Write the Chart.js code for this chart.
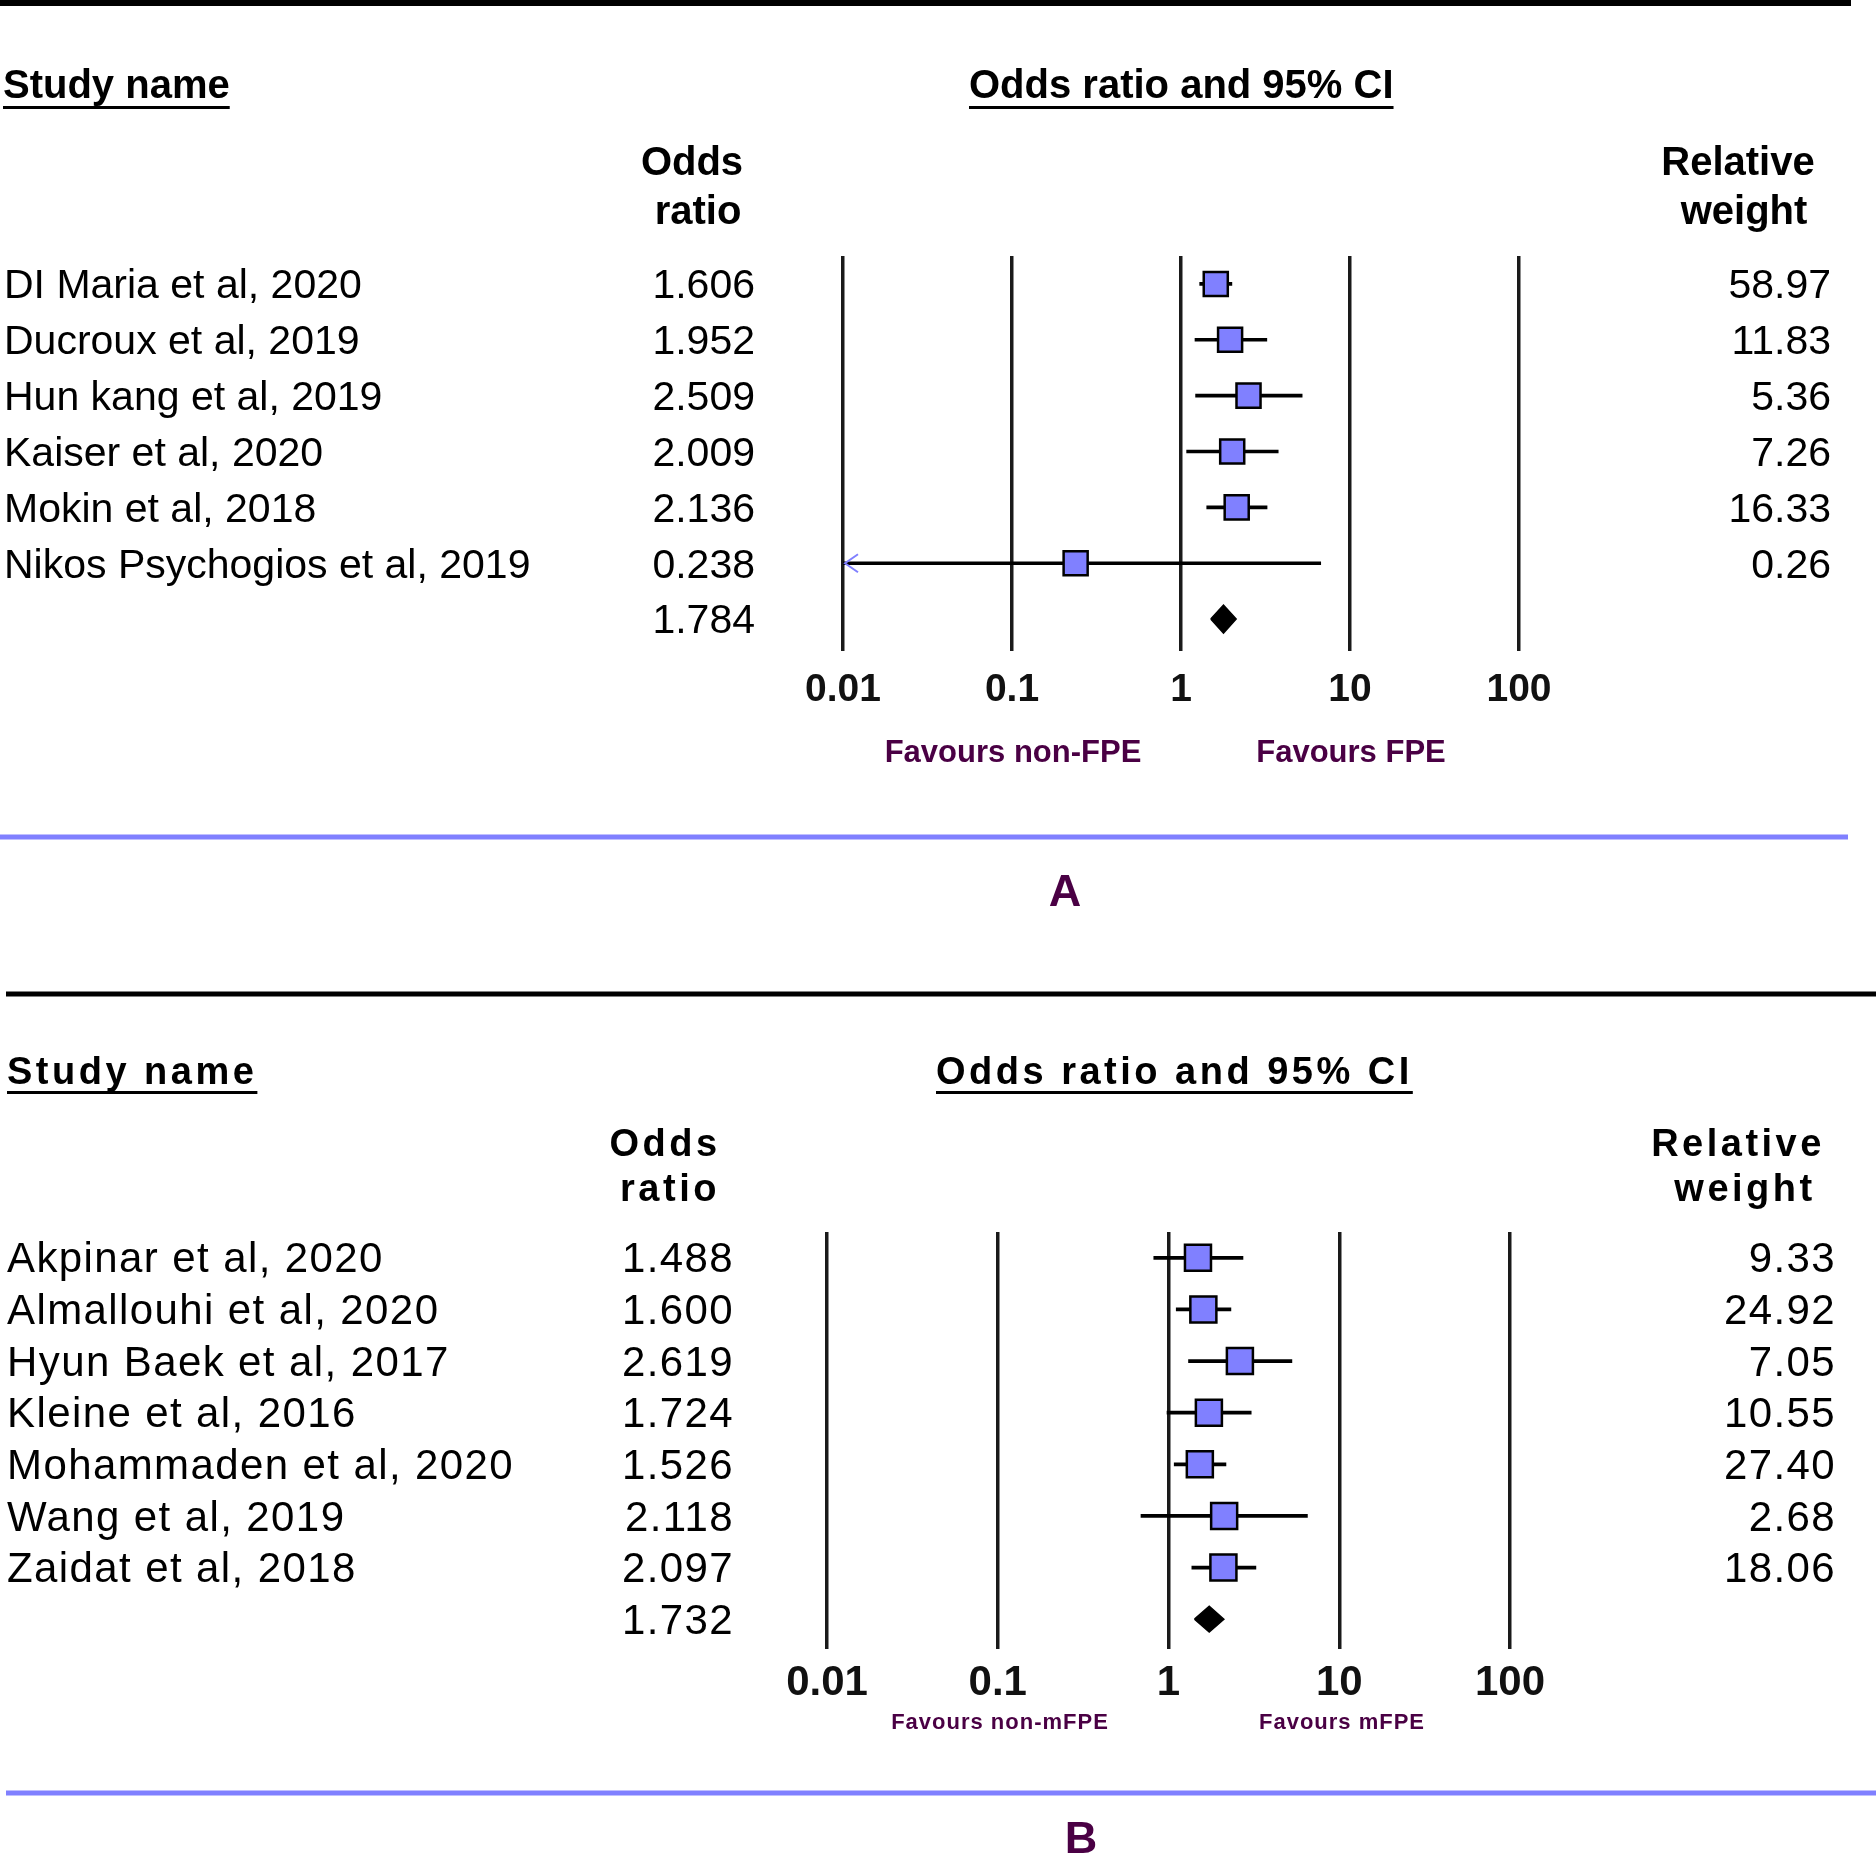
<!DOCTYPE html>
<html>
<head>
<meta charset="utf-8">
<title>Forest plots - FPE / mFPE</title>
<script src="https://cdn.jsdelivr.net/npm/chart.js@4.4.1/dist/chart.umd.min.js"></script>
<style>
    html, body { margin: 0; padding: 0; background: #fff; }
    #wrap { position: relative; width: 1876px; height: 1856px; }
    canvas { position: absolute; left: 0; }
    #chartA { top: 0; }
    #chartB { top: 940px; }
</style>
</head>
<body>
<div id="wrap">
    <canvas id="chartA" width="1876" height="940"></canvas>
    <canvas id="chartB" width="1876" height="916"></canvas>
</div>
<script>
// Panel A data (FPE vs non-FPE)
const studiesA = ['DI Maria et al, 2020', 'Ducroux et al, 2019', 'Hun kang et al, 2019',
    'Kaiser et al, 2020', 'Mokin et al, 2018', 'Nikos Psychogios et al, 2019'];
const oddsA = [1.606, 1.952, 2.509, 2.009, 2.136, 0.238];
const lowerA = [1.29, 1.21, 1.22, 1.08, 1.42, 0.0084];
const upperA = [2.00, 3.22, 5.21, 3.76, 3.23, 6.71];
const weightA = [58.97, 11.83, 5.36, 7.26, 16.33, 0.26];
const pooledA = [1.50, 1.784, 2.12];   // lower, estimate, upper

// Panel B data (mFPE vs non-mFPE)
const studiesB = ['Akpinar et al, 2020', 'Almallouhi et al, 2020', 'Hyun Baek et al, 2017',
    'Kleine et al, 2016', 'Mohammaden et al, 2020', 'Wang et al, 2019', 'Zaidat et al, 2018'];
const oddsB = [1.488, 1.600, 2.619, 1.724, 1.526, 2.118, 2.097];
const lowerB = [0.82, 1.11, 1.31, 0.98, 1.08, 0.69, 1.37];
const upperB = [2.73, 2.32, 5.28, 3.05, 2.17, 6.51, 3.25];
const weightB = [9.33, 24.92, 7.05, 10.55, 27.40, 2.68, 18.06];
const pooledB = [1.42, 1.732, 2.11];

// Axis ticks (shared)
const tickValues = [0.01, 0.1, 1, 10, 100];
const tickLabels = ['0.01', '0.1', '1', '10', '100'];

const FONT = "'Liberation Sans', Arial, Helvetica, sans-serif";
const PURPLE = '#4a0044';
const BLUE = '#8080ff';
const DIAMOND_HALF = 0.25;   // half height of pooled diamond, in rows
const TEXT_DY = 3;           // 'middle' baseline sits a bit high

Chart.defaults.font.family = FONT;

// Layout of panel A (canvas pixels)
const layoutA = {
    area: { left: 843, right: 357, top: 256, bottom: 203 },
    axisHeight: 90,
    tickFont: 39, tickPad: 16,
    markRadius: 17,
    spacing: '0px', bodySpacing: '0px',
    headFont: 40, bodyFont: 41,
    topRule: { x0: 0, x1: 1851, y: 3, h: 6 },
    studyHead: { x: 3, y: 84, ul: 106 },
    ciHead: { x: 969, y: 84, ul: 106 },
    headLines: [
        { t: 'Odds', x: 692, y: 161 }, { t: 'ratio', x: 698, y: 210 },
        { t: 'Relative', x: 1738, y: 161 }, { t: 'weight', x: 1744, y: 210 }
    ],
    nameX: 4, orRight: 755, weightRight: 1831,
    favours: [{ t: 'Favours non-FPE', x: 1013 }, { t: 'Favours FPE', x: 1351 }],
    favY: 750, favFont: 31, favSpacing: '0px',
    blueRule: { x0: 0, x1: 1848, y: 837, h: 5 },
    letter: { t: 'A', x: 1065, y: 891 }
};

// Layout of panel B (canvas pixels, canvas starts at y=940)
const layoutB = {
    area: { left: 827, right: 366, top: 292, bottom: 121 },
    axisHeight: 90,
    tickFont: 42, tickPad: 9,
    markRadius: 18.4,
    spacing: '3.5px', bodySpacing: '1.4px',
    headFont: 38, bodyFont: 42,
    topRule: { x0: 6, x1: 1876, y: 54, h: 5 },
    studyHead: { x: 7, y: 131, ul: 151 },
    ciHead: { x: 936, y: 131, ul: 151 },
    headLines: [
        { t: 'Odds', x: 665, y: 203 }, { t: 'ratio', x: 670, y: 248 },
        { t: 'Relative', x: 1738, y: 203 }, { t: 'weight', x: 1745, y: 248 }
    ],
    nameX: 7, orRight: 734, weightRight: 1836,
    favours: [{ t: 'Favours non-mFPE', x: 1000 }, { t: 'Favours mFPE', x: 1342 }],
    favY: 780, favFont: 22, favSpacing: '1px',
    blueRule: { x0: 6, x1: 1876, y: 853, h: 5 },
    letter: { t: 'B', x: 1081, y: 898 }
};

// Draw a line of text
function put(ctx, text, x, y, font, align, color, spacing) {
    ctx.font = font;
    ctx.textAlign = align;
    ctx.textBaseline = 'middle';
    ctx.fillStyle = color;
    ctx.letterSpacing = spacing || '0px';
    ctx.fillText(text, x, y + TEXT_DY);
    return ctx.measureText(text).width;
}

// Plugin: headers, text columns, rules
function forestTextPlugin(p, studies, odds, weights, pooled) {
    return {
        id: 'forestText',
        afterDraw(chart) {
            const ctx = chart.ctx;
            const yScale = chart.scales.y;
            const bold = (s) => `bold ${s}px ${FONT}`;
            ctx.save();

            // top black rule
            ctx.fillStyle = '#000';
            ctx.fillRect(p.topRule.x0, p.topRule.y - p.topRule.h / 2, p.topRule.x1 - p.topRule.x0, p.topRule.h);

            // underlined headers
            let w = put(ctx, 'Study name', p.studyHead.x, p.studyHead.y, bold(p.headFont), 'left', '#000', p.spacing);
            ctx.fillRect(p.studyHead.x, p.studyHead.ul, w, 3);
            w = put(ctx, 'Odds ratio and 95% CI', p.ciHead.x, p.ciHead.y, bold(p.headFont), 'left', '#000', p.spacing);
            ctx.fillRect(p.ciHead.x, p.ciHead.ul, w, 3);

            p.headLines.forEach(h => put(ctx, h.t, h.x, h.y, bold(p.headFont), 'center', '#000', p.spacing));

            // study rows
            const body = `${p.bodyFont}px ${FONT}`;
            studies.forEach((name, i) => {
                const y = yScale.getPixelForValue(i);
                put(ctx, name, p.nameX, y, body, 'left', '#000', p.bodySpacing);
                put(ctx, odds[i].toFixed(3), p.orRight, y, body, 'right', '#000', p.bodySpacing);
                put(ctx, weights[i].toFixed(2), p.weightRight, y, body, 'right', '#000', p.bodySpacing);
            });
            // pooled row
            put(ctx, pooled[1].toFixed(3), p.orRight, yScale.getPixelForValue(studies.length), body, 'right', '#000', p.bodySpacing);

            // favours labels
            p.favours.forEach(f => put(ctx, f.t, f.x, p.favY, bold(p.favFont), 'center', PURPLE, p.favSpacing));

            // blue rule and panel letter
            ctx.fillStyle = BLUE;
            ctx.fillRect(p.blueRule.x0, p.blueRule.y - p.blueRule.h / 2, p.blueRule.x1 - p.blueRule.x0, p.blueRule.h);
            put(ctx, p.letter.t, p.letter.x, p.letter.y, bold(45), 'center', PURPLE, '0px');

            ctx.restore();
        }
    };
}

// Plugin: arrow where the CI runs off the left of the axis
function arrowPlugin(lower) {
    return {
        id: 'ciArrow',
        afterDatasetsDraw(chart) {
            const { ctx, scales: { x, y } } = chart;
            ctx.save();
            ctx.strokeStyle = BLUE;
            ctx.lineWidth = 2;
            lower.forEach((lo, i) => {
                if (lo >= x.min) return;
                const px = x.left + 2;
                const py = y.getPixelForValue(i);
                ctx.beginPath();
                ctx.moveTo(px + 13, py - 9);
                ctx.lineTo(px, py);
                ctx.lineTo(px + 13, py + 9);
                ctx.stroke();
            });
            ctx.restore();
        }
    };
}

function makeForest(canvasId, p, studies, odds, lower, upper, weights, pooled) {
    const n = studies.length;
    const ciData = studies.map((s, i) => ({ x: [lower[i], upper[i]], y: i }));
    const pointData = studies.map((s, i) => ({ x: odds[i], y: i }));
    const diamondData = [
        { x: pooled[0], y: n },
        { x: pooled[1], y: n - DIAMOND_HALF },
        { x: pooled[2], y: n },
        { x: pooled[1], y: n + DIAMOND_HALF },
        { x: pooled[0], y: n }
    ];

    return new Chart(document.getElementById(canvasId), {
        type: 'scatter',
        data: {
            datasets: [
                {
                    type: 'bar',
                    indexAxis: 'y',
                    data: ciData,
                    backgroundColor: '#000',
                    barThickness: 3,
                    clip: 0,
                    order: 2
                },
                {
                    type: 'scatter',
                    data: pointData,
                    pointStyle: 'rect',
                    pointRadius: p.markRadius,
                    pointBorderWidth: 2.5,
                    pointBackgroundColor: BLUE,
                    pointBorderColor: '#000',
                    order: 0
                },
                {
                    type: 'scatter',
                    data: diamondData,
                    showLine: true,
                    fill: 'shape',
                    tension: 0,
                    borderColor: '#000',
                    borderWidth: 1.5,
                    backgroundColor: '#000',
                    pointRadius: 0,
                    order: 1
                }
            ]
        },
        options: {
            responsive: false,
            animation: false,
            devicePixelRatio: 1,
            events: [],
            layout: { padding: p.area },
            plugins: {
                legend: { display: false },
                tooltip: { enabled: false }
            },
            scales: {
                x: {
                    type: 'logarithmic',
                    min: tickValues[0],
                    max: tickValues[tickValues.length - 1],
                    offset: false,
                    afterBuildTicks: (scale) => {
                        scale.ticks = tickValues.map(v => ({ value: v }));
                    },
                    afterFit: (scale) => { scale.height = p.axisHeight; },
                    border: { display: false },
                    grid: {
                        color: '#1a1a1a',
                        lineWidth: 3.5,
                        drawTicks: true,
                        tickLength: 4,
                        offset: false
                    },
                    ticks: {
                        autoSkip: false,
                        maxRotation: 0,
                        padding: p.tickPad,
                        color: '#111',
                        font: { size: p.tickFont, weight: 'bold', lineHeight: 1.2 },
                        callback: (v, i) => tickLabels[i]
                    }
                },
                y: {
                    type: 'linear',
                    min: -0.5,
                    max: n + 0.5,
                    offset: false,
                    reverse: true,
                    display: false,
                    grid: { offset: false }
                }
            }
        },
        plugins: [forestTextPlugin(p, studies, odds, weights, pooled), arrowPlugin(lower)]
    });
}

document.addEventListener('DOMContentLoaded', () => {
    makeForest('chartA', layoutA, studiesA, oddsA, lowerA, upperA, weightA, pooledA);
    makeForest('chartB', layoutB, studiesB, oddsB, lowerB, upperB, weightB, pooledB);
});
</script>
</body>
</html>
